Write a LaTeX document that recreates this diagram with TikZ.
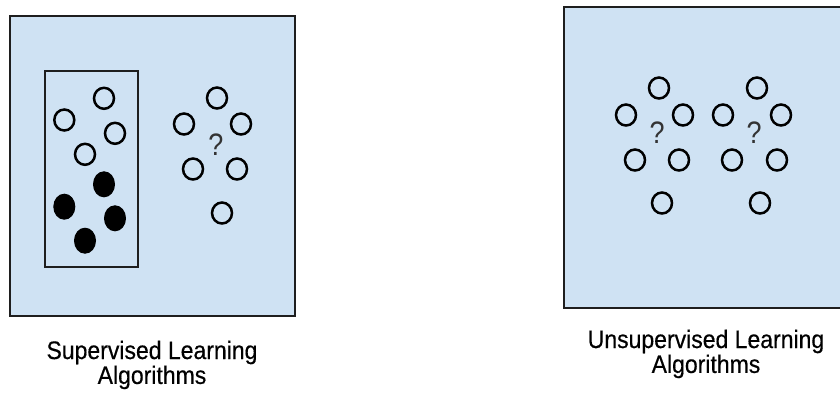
\documentclass[tikz,border=0pt]{standalone}
\usepackage{fontspec}
\setmainfont{Liberation Sans}
\newfontfamily\capfont[FakeBold=0.4]{Liberation Sans}
\usetikzlibrary{shapes.geometric}
\definecolor{panelblue}{HTML}{CFE2F3}
\definecolor{edgedark}{HTML}{1E1E1E}
\definecolor{qgray}{HTML}{333333}
\tikzset{
  panel/.style={draw=edgedark, line width=2.6pt, fill=panelblue},
  frame/.style={draw=edgedark, line width=2.4pt},
  dot/.style={ellipse, draw=black, line width=2.5pt, inner sep=0pt, minimum width=20pt, minimum height=21pt},
  filled/.style={ellipse, draw=black, fill=black, line width=1pt, inner sep=0pt, minimum width=21pt, minimum height=25pt},
  qmark/.style={inner sep=0pt, text=qgray, font=\fontsize{27}{27}\selectfont},
  caption/.style={inner sep=0pt, anchor=base, font=\capfont\fontsize{23}{20}\selectfont}
}
\newcommand{\stretchq}{\scalebox{1}[1.15]{?}}
\newcommand{\captext}[2]{\scalebox{1}[1.1]{\begin{tabular}[t]{@{}c@{}}#1\\#2\end{tabular}}}
\begin{document}
\begin{tikzpicture}[x=1pt,y=-1pt]
\useasboundingbox (0,0) rectangle (840,392);
\clip (0,0) rectangle (840,392);
\fill[white] (0,0) rectangle (840,392);
% left panel
\draw[panel] (10,16) rectangle (295,316);
\draw[frame] (45,71) rectangle (138,267);
\node[dot] (l1) at (104,98.3) {};
\node[dot] (l2) at (64.3,120) {};
\node[dot] (l3) at (115,133.3) {};
\node[dot] (l4) at (85,154.3) {};
\node[filled] (f1) at (104,184.3) {};
\node[filled] (f2) at (64.3,206.7) {};
\node[filled] (f3) at (115,218.3) {};
\node[filled] (f4) at (85,240.7) {};
\node[dot] (u1) at (217,98) {};
\node[dot] (u2) at (184,124) {};
\node[dot] (u3) at (241,124) {};
\node[dot] (u4) at (193,169) {};
\node[dot] (u5) at (237,169) {};
\node[dot] (u6) at (222,213) {};
\node[qmark] (q0) at (216,145) {\stretchq};
% right panel
\draw[panel] (564,7) rectangle (852,308);
\node[dot] (a1) at (659,88) {};
\node[dot] (a2) at (626,115) {};
\node[dot] (a3) at (683,115) {};
\node[dot] (a4) at (635,160) {};
\node[dot] (a5) at (679,160) {};
\node[dot] (a6) at (662,203) {};
\node[qmark] (q1) at (657,133) {\stretchq};
\node[dot] (b1) at (757,88) {};
\node[dot] (b2) at (723,115) {};
\node[dot] (b3) at (781,115) {};
\node[dot] (b4) at (732,160) {};
\node[dot] (b5) at (777,160) {};
\node[dot] (b6) at (760,203) {};
\node[qmark] (q2) at (754,133) {\stretchq};
% captions
\node[caption] (capL) at (152,359) {\captext{Supervised Learning}{Algorithms}};
\node[caption] (capR) at (706,348) {\captext{Unsupervised Learning}{Algorithms}};
\end{tikzpicture}
\end{document}
